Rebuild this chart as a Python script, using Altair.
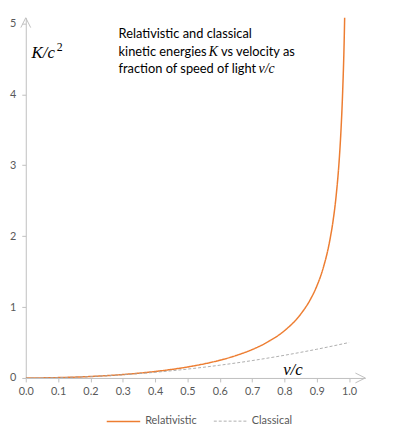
import altair as alt
import pandas as pd

# Relativistic kinetic energy K/c^2
rel_v = [0.0, 0.05, 0.1, 0.15, 0.2, 0.25, 0.3, 0.35, 0.4, 0.45, 0.5, 0.55, 0.6, 0.65,
         0.7, 0.75, 0.8, 0.85, 0.88, 0.9, 0.92, 0.94, 0.95, 0.96, 0.97, 0.975, 0.98,
         0.985, 0.99]
rel_k = [0.0, 0.00125, 0.00504, 0.01144, 0.02062, 0.0328, 0.04828, 0.06752, 0.09109,
         0.11978, 0.1547, 0.19737, 0.25, 0.3159, 0.40028, 0.51186, 0.66667, 0.89832,
         1.1054, 1.29416, 1.5516, 1.9311, 2.20256, 2.5714, 3.1134, 3.5004, 4.0252,
         4.7953, 6.0888]

# Classical kinetic energy
cla_v = [0.0, 0.1, 0.2, 0.3, 0.4, 0.5, 0.6, 0.7, 0.8, 0.9, 1.0]
cla_k = [0.0, 0.005, 0.02, 0.045, 0.08, 0.125, 0.18, 0.245, 0.32, 0.405, 0.5]

series_names = ["Relativistic", "Classical"]
x_ticks = [0.0, 0.1, 0.2, 0.3, 0.4, 0.5, 0.6, 0.7, 0.8, 0.9, 1.0]
y_ticks = [0, 1, 2, 3, 4, 5]

X_MAX = 1.05
Y_MAX = 5.08

# annotation texts (data-space anchors, left aligned, middle baseline)
sans_text = ["Relativistic and classical", "kinetic energies", "vs velocity as",
             "fraction of speed of light"]
sans_x = [0.287, 0.287, 0.604, 0.287]
sans_y = [4.855, 4.60, 4.60, 4.35]
serif_text = ["K", "v/c"]
serif_x = [0.566, 0.72]
serif_y = [4.60, 4.35]
axis_text = ["K/c", "v/c"]
axis_x = [0.018, 0.796]
axis_y = [4.585, 0.11]
sup_text = ["2"]
sup_x = [0.096]
sup_y = [4.67]

df = pd.concat([
    pd.DataFrame({"v": rel_v, "K": rel_k, "series": "Relativistic"}),
    pd.DataFrame({"v": cla_v, "K": cla_k, "series": "Classical"}),
])

xs = alt.Scale(domain=[0, X_MAX], nice=False, zero=False)
ys = alt.Scale(domain=[0, Y_MAX], nice=False, zero=False)


def x_enc():
    return alt.X("v:Q", scale=xs, axis=alt.Axis(values=x_ticks, format=".1f", title=None,
                                                labelPadding=4, tickSize=4,
                                                labelOverlap=False, labelFlush=False))


def y_enc():
    return alt.Y("K:Q", scale=ys, axis=alt.Axis(values=y_ticks, format="d", title=None,
                                                labelPadding=6, tickSize=4,
                                                labelOverlap=False, labelFlush=False))


def make_legend():
    return alt.Legend(title=None, orient="none", legendX=81, legendY=391,
                      direction="horizontal", symbolType="stroke",
                      symbolSize=1150, symbolStrokeWidth=1.3,
                      labelFont="Lato", labelFontSize=11,
                      labelColor="#595959", columnPadding=14, labelOffset=4)


lines = alt.Chart(df).mark_line(clip=True, interpolate="monotone").encode(
    x=x_enc(),
    y=y_enc(),
    color=alt.Color("series:N", scale=alt.Scale(domain=series_names,
                                                range=["#ed7d31", "#a5a5a5"]),
                    legend=make_legend()),
    strokeDash=alt.StrokeDash("series:N", scale=alt.Scale(domain=series_names,
                                                          range=[[1, 0], [3, 2]]),
                              legend=make_legend()),
    strokeWidth=alt.StrokeWidth("series:N", scale=alt.Scale(domain=series_names,
                                                            range=[1.5, 0.9]),
                                legend=None),
    order=alt.Order("v:Q"),
)

arrow_right = alt.Chart(pd.DataFrame({"v": [X_MAX], "K": [0]})).mark_point(
    shape="M -1 -0.5 L 0 0 L -1 0.5", size=400, filled=False, stroke="#bfbfbf",
    strokeWidth=1, opacity=1, clip=False
).encode(x=x_enc(), y=y_enc())

arrow_up = alt.Chart(pd.DataFrame({"v": [0], "K": [Y_MAX]})).mark_point(
    shape="M -0.5 1 L 0 0 L 0.5 1", size=400, filled=False, stroke="#bfbfbf",
    strokeWidth=1, opacity=1, clip=False
).encode(x=x_enc(), y=y_enc())

sans = alt.Chart(pd.DataFrame({"t": sans_text, "v": sans_x, "K": sans_y})).mark_text(
    align="left", baseline="middle", font="Lato", fontSize=13, color="#000000"
).encode(x=x_enc(), y=y_enc(), text="t:N")

serif = alt.Chart(pd.DataFrame({"t": serif_text, "v": serif_x, "K": serif_y})).mark_text(
    align="left", baseline="middle", font="Liberation Serif", fontStyle="italic",
    fontSize=14, color="#000000"
).encode(x=x_enc(), y=y_enc(), text="t:N")

axis_labels = alt.Chart(pd.DataFrame({"t": axis_text, "v": axis_x, "K": axis_y})).mark_text(
    align="left", baseline="middle", font="Liberation Serif", fontStyle="italic",
    fontSize=17, color="#000000"
).encode(x=x_enc(), y=y_enc(), text="t:N")

sup = alt.Chart(pd.DataFrame({"t": sup_text, "v": sup_x, "K": sup_y})).mark_text(
    align="left", baseline="middle", font="Liberation Serif",
    fontSize=12, color="#000000"
).encode(x=x_enc(), y=y_enc(), text="t:N")

chart = alt.layer(lines, arrow_right, arrow_up, sans, serif, axis_labels, sup).properties(
    width=344, height=365,
    autosize=alt.AutoSizeParams(type="none"),
    padding={"left": 18, "top": 7, "right": 20, "bottom": 62},
    background="white",
).configure_view(stroke=None).configure_axis(
    grid=False, domainColor="#bfbfbf", tickColor="#bfbfbf", labelColor="#595959",
    labelFont="Lato", labelFontSize=11,
)

chart.save("out.html", embed_options={"renderer": "svg", "actions": False})
